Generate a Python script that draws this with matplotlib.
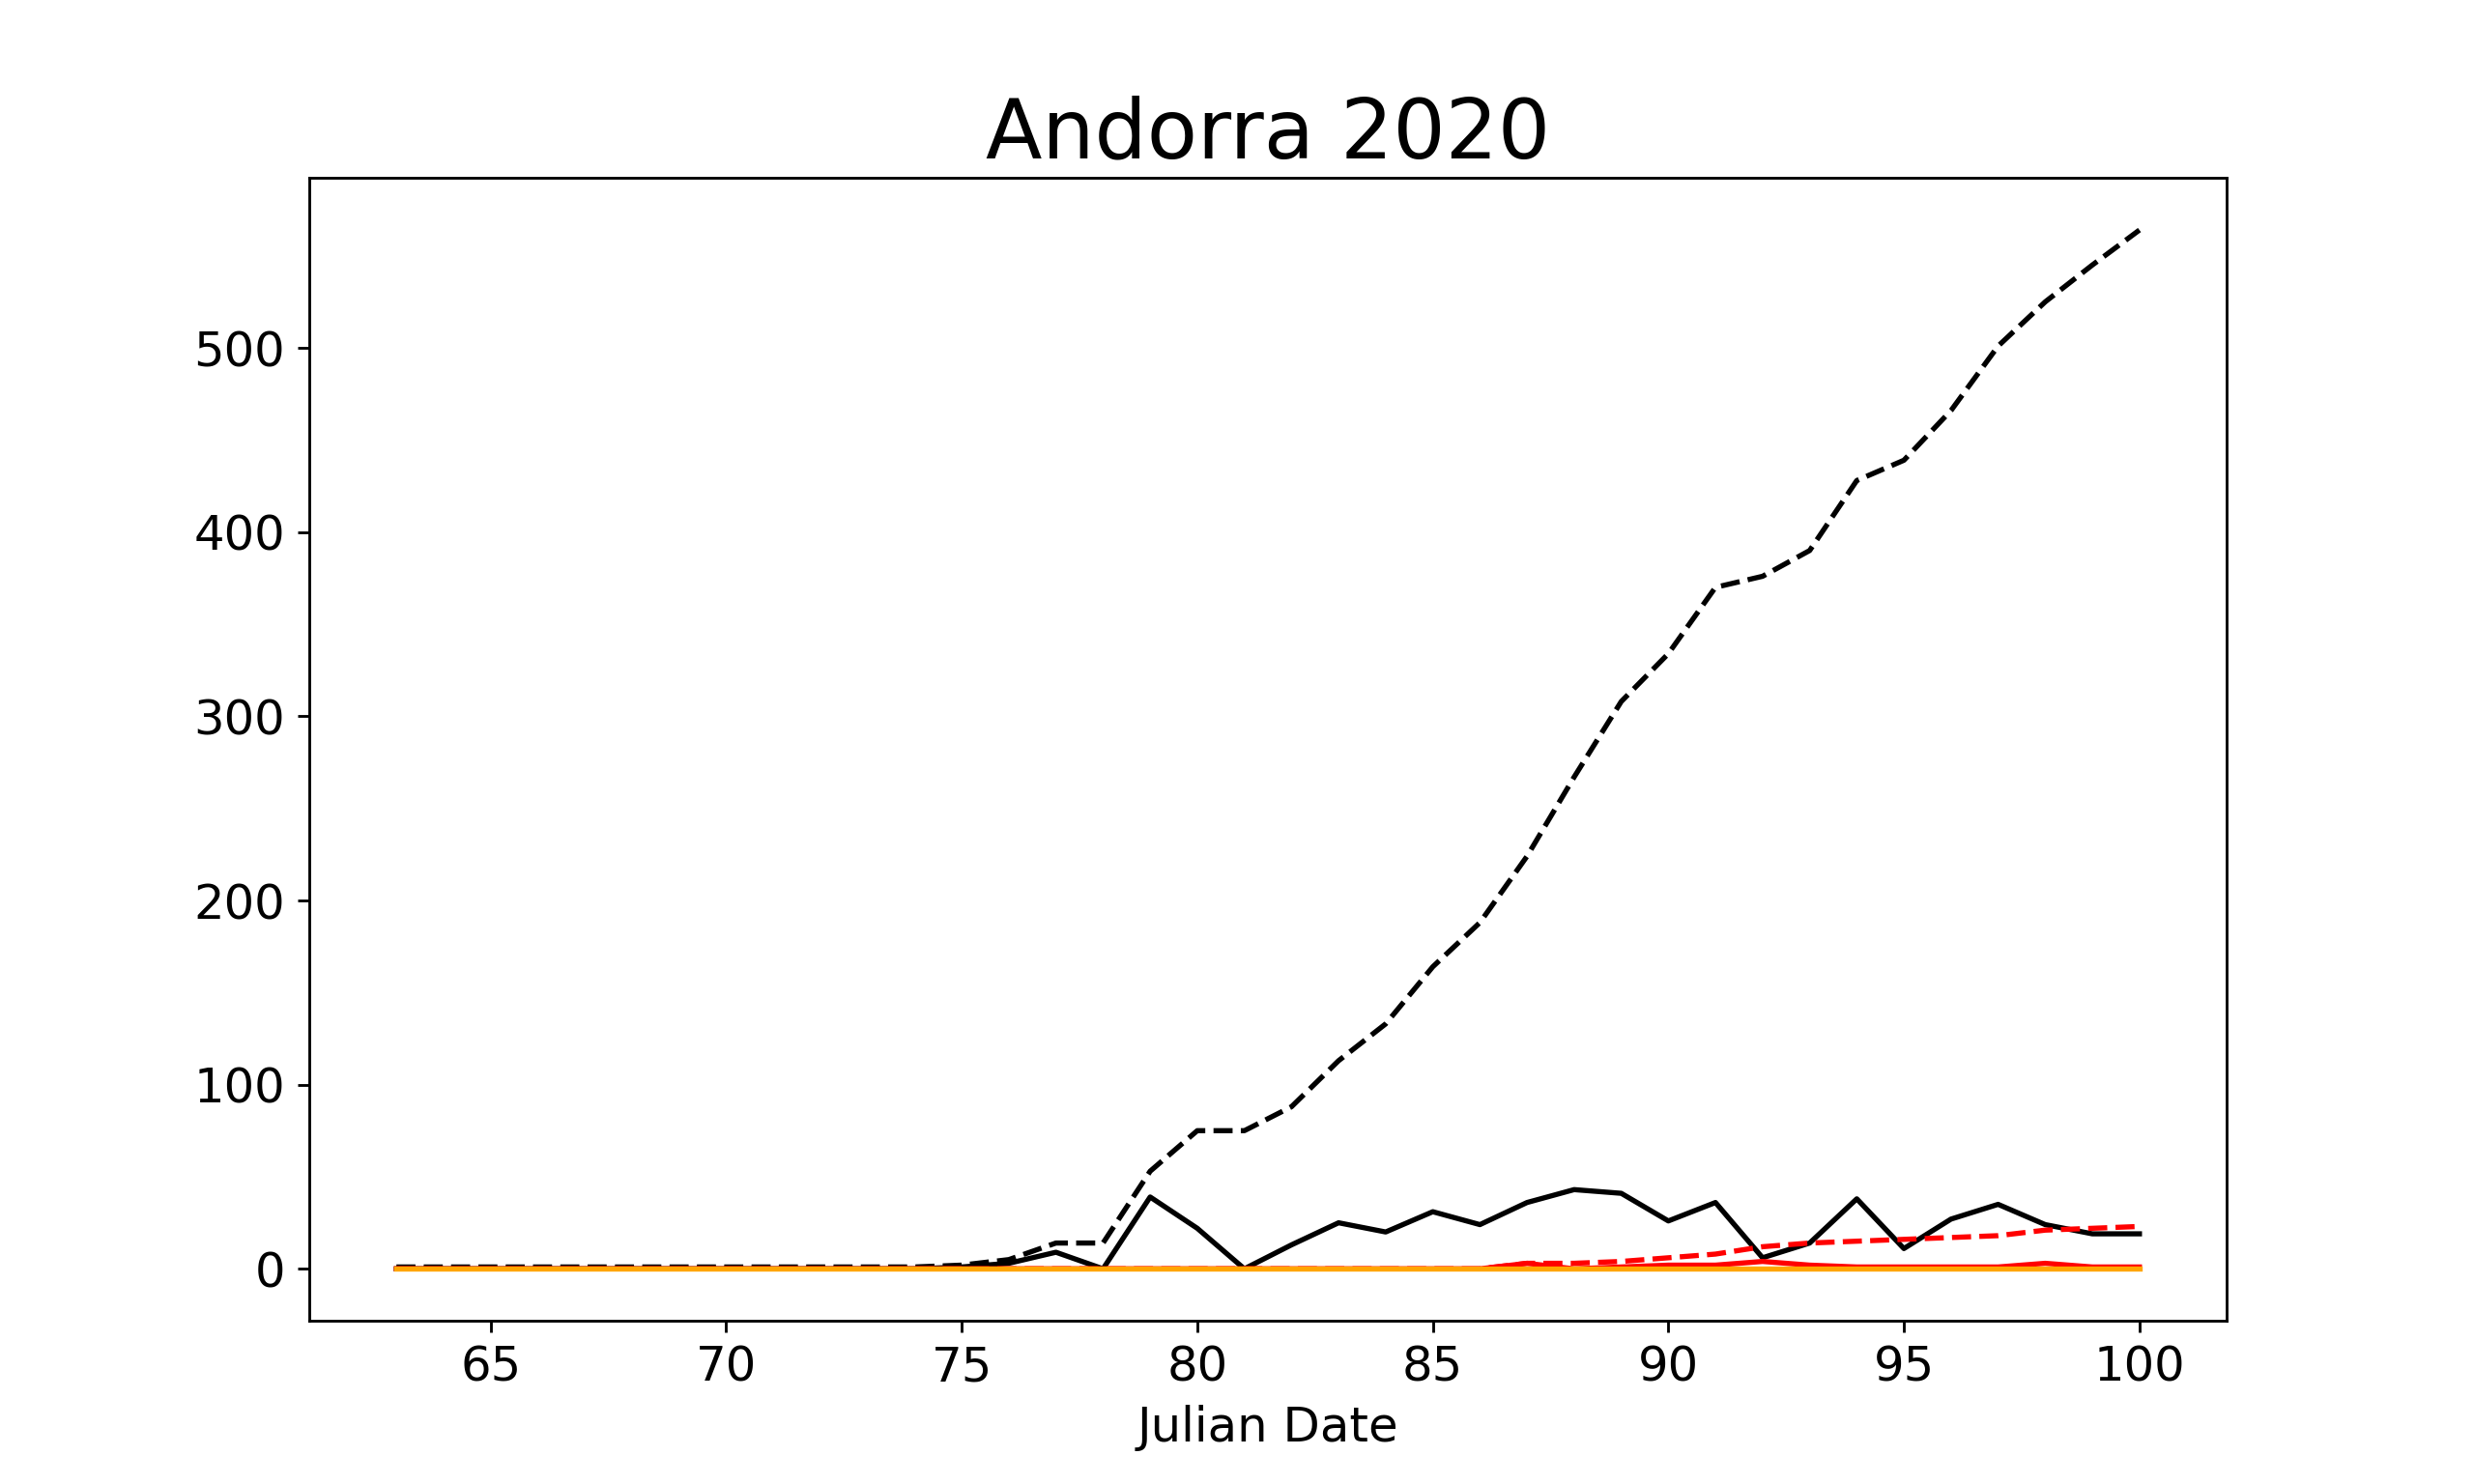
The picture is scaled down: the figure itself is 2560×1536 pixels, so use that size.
import matplotlib
matplotlib.use("Agg")
import matplotlib.pyplot as plt
import numpy as np

days = list(range(63, 101))
cum_cases = [1]*12 + [2, 5, 14, 14, 53, 75, 75, 88, 113, 133, 164, 188, 224, 267, 308, 334, 370, 376, 390, 428, 439, 466, 501, 525, 545, 564]
daily_cases = [0]*12 + [1, 3, 9, 0, 39, 22, 0, 13, 25, 20, 31, 24, 36, 43, 41, 26, 36, 6, 14, 38, 11, 27, 35, 24, 19, 19]
cum_deaths = [0]*24 + [3, 3, 4, 6, 8, 12, 14, 15, 16, 17, 18, 21, 22, 23]
daily_deaths = [0]*24 + [3, 0, 1, 2, 2, 4, 2, 1, 1, 1, 1, 3, 1, 1]
recovered = [0]*38

fig, ax = plt.subplots(figsize=(10, 6), dpi=256)
ax.plot(days, cum_cases, 'k--')
ax.plot(days, daily_cases, 'k-')
ax.plot(days, cum_deaths, 'r--')
ax.plot(days, daily_deaths, 'r-')
ax.plot(days, recovered, color='orange')
ax.set_title("Andorra 2020", fontsize=24)
ax.set_xlabel("Julian Date", fontsize=14)
ax.tick_params(labelsize=14)
fig.savefig("out.png")
